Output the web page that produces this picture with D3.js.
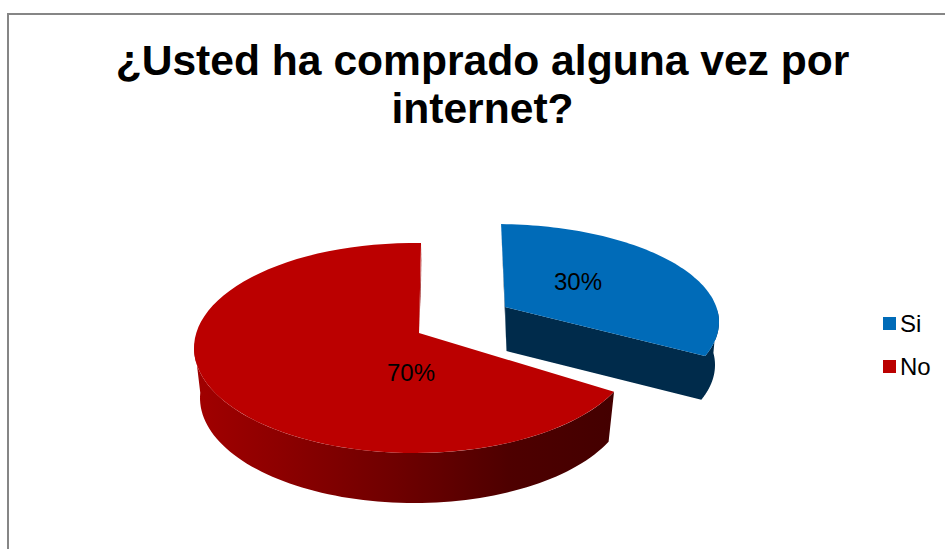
<!DOCTYPE html>
<html><head><meta charset="utf-8">
<script src="https://cdn.jsdelivr.net/npm/d3@7"></script>
<style>html,body{margin:0;background:#fff}svg{display:block}text{font-family:"Liberation Sans",Arial,sans-serif;fill:#000}</style>
</head><body><svg id="c" width="945" height="549"></svg>
<script>
const titleLines = ["¿Usted ha comprado alguna vez por", "internet?"];
const categories = ["Si", "No"];
const values = [30, 70];
const labels = ["30%", "70%"];
const topColors = ["#006bb8", "#bb0000"];

const svg = d3.select("#c");
const defs = svg.append("defs");
const grad = defs.append("linearGradient").attr("id", "redSide")
  .attr("gradientUnits", "userSpaceOnUse").attr("x1", 200).attr("x2", 612).attr("y1", 0).attr("y2", 0);
[[0, "#a00000"], [.2, "#8c0000"], [.5, "#6c0000"], [.75, "#4e0000"], [1, "#440000"]]
  .forEach(s => grad.append("stop").attr("offset", s[0]).attr("stop-color", s[1]));

// frame
svg.append("path").attr("d", "M8,549V14H945").attr("fill", "none").attr("stroke", "#868686").attr("stroke-width", 2);

// title
svg.append("text").attr("text-anchor", "middle").attr("font-weight", "bold").attr("font-size", 42.6)
  .selectAll("tspan").data(titleLines).join("tspan")
  .attr("x", 482.5).attr("y", (d, i) => 75 + i * 48).text(d => d);

// pie angles -> screen rim parameters (angle clockwise from top, perspective-warped)
const arcs = d3.pie().sort(null)(values);
const rimScale = d3.scaleLinear().domain([0, arcs[0].endAngle, 2 * Math.PI]).range([0, 1, 2]);
const blueT = d3.scaleLinear().domain([0, 1]).range([0.027, 1.926]);
const redT = d3.scaleLinear().domain([1, 2]).range([2.0, 2 * Math.PI + 0.032]);

const ell = (cx, cy, a, b) => t => [cx + a * Math.sin(t), cy - b * Math.cos(t)];
const rim = (f, t0, t1) => d3.range(0, 81).map(i => f(t0 + (t1 - t0) * i / 80));
const path = d3.line().curve(d3.curveLinear);
const shape = (pts, fill) => svg.append("path").attr("d", path(pts) + "Z").attr("fill", fill);

const redTop = ell(414, 348, 220, 105), redLow = ell(414, 398, 214, 105);
const blueTop = ell(495, 322, 224, 98), blueLow = ell(495, 365, 220, 100);
const redApex = [419, 333], blueApex = [505, 307];

// red slice
const r0 = redT(rimScale(arcs[1].startAngle)), r1 = redT(rimScale(arcs[1].endAngle));
const sideEnd = 3 * Math.PI / 2 + 0.05;
shape(rim(redTop, r0, sideEnd).concat(rim(redLow, sideEnd, r0)), "url(#redSide)");
shape([[421.5, 243], [421, 285], redApex], "#8a0000");
shape([redApex].concat(rim(redTop, r0, r1)), topColors[1]);

// blue slice
const b0 = blueT(rimScale(arcs[0].startAngle)), b1 = blueT(rimScale(arcs[0].endAngle));
shape([[501, 224], blueApex, [506.5, 351], [503, 270]], "#002b4b");
shape([blueApex, [506.5, 351]].concat(rim(blueLow, b1, 1.45)).concat(rim(blueTop, 1.45, b1)), "#002b4b");
shape([blueApex].concat(rim(blueTop, b0, b1)), topColors[0]);

// data labels
const labelPos = d3.scalePoint().domain(categories).range([0, 1]);
svg.selectAll("text.lab").data(labels).join("text").attr("class", "lab")
  .attr("text-anchor", "middle").attr("font-size", 24)
  .attr("x", (d, i) => labelPos(categories[i]) ? 411 : 578)
  .attr("y", (d, i) => labelPos(categories[i]) ? 381 : 290).text(d => d);

// legend
const legY = d3.scalePoint().domain(categories).range([323.5, 366.5]);
const leg = svg.selectAll("g.leg").data(categories).join("g").attr("class", "leg");
leg.append("rect").attr("x", 883).attr("y", d => legY(d) - 6.5).attr("width", 13).attr("height", 13)
  .attr("fill", (d, i) => topColors[i]);
leg.append("text").attr("x", 900).attr("y", d => legY(d) + 8.3).attr("font-size", 24).text(d => d);
</script></body></html>
